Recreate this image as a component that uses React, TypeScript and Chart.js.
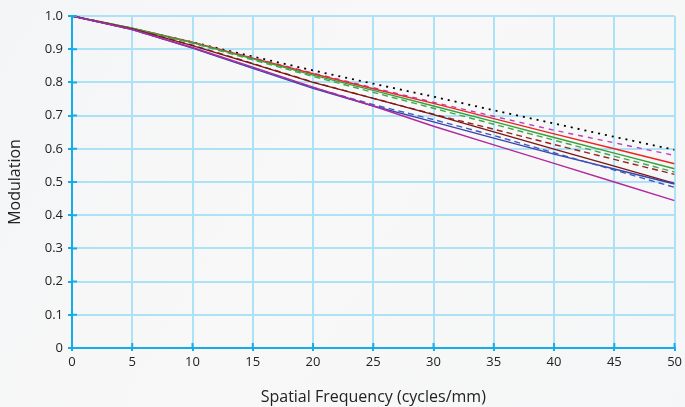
import React, { useEffect, useRef } from "react";
import { Chart, registerables } from "chart.js";

Chart.register(...registerables);

const frequencies = [0, 5, 10, 15, 20, 25, 30, 35, 40, 45, 50];
const yTicks = [0, 0.1, 0.2, 0.3, 0.4, 0.5, 0.6, 0.7, 0.8, 0.9, 1.0];

const diffractionLimit = [1, 0.962, 0.921, 0.878, 0.836, 0.796, 0.757, 0.716, 0.676, 0.636, 0.597];
const magentaDashed = [1, 0.962, 0.92, 0.874, 0.828, 0.784, 0.74, 0.698, 0.656, 0.618, 0.58];
const redSolid = [1, 0.963, 0.921, 0.873, 0.826, 0.781, 0.737, 0.691, 0.645, 0.6, 0.555];
const greenSolid = [1, 0.963, 0.92, 0.871, 0.822, 0.776, 0.729, 0.682, 0.634, 0.587, 0.54];
const greenDashed = [1, 0.962, 0.918, 0.868, 0.818, 0.77, 0.722, 0.674, 0.626, 0.578, 0.53];
const brownDashed = [1, 0.961, 0.912, 0.857, 0.801, 0.752, 0.704, 0.659, 0.613, 0.568, 0.523];
const darkRedSolid = [1, 0.961, 0.911, 0.856, 0.8, 0.752, 0.703, 0.651, 0.599, 0.548, 0.496];
const blueSolid = [1, 0.959, 0.903, 0.842, 0.782, 0.729, 0.681, 0.632, 0.584, 0.539, 0.494];
const blueDashed = [1, 0.959, 0.904, 0.844, 0.784, 0.733, 0.688, 0.64, 0.588, 0.536, 0.484];
const magentaSolid = [1, 0.959, 0.905, 0.846, 0.786, 0.729, 0.668, 0.612, 0.556, 0.5, 0.444];

const GRID = "#ade1f6";
const AXIS = "#13aeea";
const FONT = "'Open Sans', 'Noto Sans', sans-serif";

const innerTicks = {
  id: "innerTicks",
  afterDraw(chart: any) {
    const { ctx, chartArea, scales } = chart;
    ctx.save();
    ctx.strokeStyle = AXIS;
    ctx.lineWidth = 2;
    ctx.beginPath();
    scales.x.ticks.forEach((t: any) => {
      const px = scales.x.getPixelForValue(t.value);
      ctx.moveTo(px, chartArea.bottom);
      ctx.lineTo(px, chartArea.bottom - 5);
    });
    scales.y.ticks.forEach((t: any) => {
      const py = scales.y.getPixelForValue(t.value);
      ctx.moveTo(chartArea.left, py);
      ctx.lineTo(chartArea.left + 5, py);
    });
    ctx.stroke();
    ctx.restore();
  },
};

export default function App() {
  const ref = useRef<HTMLCanvasElement | null>(null);
  useEffect(() => {
    document.body.style.margin = "0";
    document.body.style.background = "#f7f7f8";
    const mk = (data: number[], color: string, dash: number[] = [], width = 1.4) => ({
      data: frequencies.map((f, i) => ({ x: f, y: data[i] })),
      borderColor: color,
      backgroundColor: color,
      borderDash: dash,
      borderWidth: width,
      pointRadius: 0,
      tension: 0,
      fill: false,
    });
    const chart = new Chart(ref.current!, {
      type: "line",
      data: {
        datasets: [
          mk(magentaSolid, "#b4279f"),
          mk(blueDashed, "#3f57c4", [6, 4]),
          mk(blueSolid, "#3b44a8"),
          mk(darkRedSolid, "#7e1616"),
          mk(brownDashed, "#9a2020", [6, 4]),
          mk(greenDashed, "#3fa84a", [6, 4]),
          mk(greenSolid, "#36a13c"),
          mk(redSolid, "#f02424"),
          mk(magentaDashed, "#c23cbc", [5, 5]),
          mk(diffractionLimit, "#000000", [2, 5], 1.8),
        ] as any,
      },
      options: {
        animation: false,
        responsive: false,
        maintainAspectRatio: false,
        layout: { padding: { top: 16, right: 9, bottom: 0, left: 0 } },
        plugins: { legend: { display: false }, tooltip: { enabled: false } },
        scales: {
          x: {
            type: "linear",
            min: 0,
            max: 50,
            afterFit: (s: any) => { s.height = 59; },
            ticks: { stepSize: 5, color: "#222", font: { family: FONT, size: 13 }, padding: 3, maxRotation: 0 },
            grid: { color: GRID, lineWidth: 2, tickLength: 3, tickColor: AXIS, drawTicks: true },
            border: { color: AXIS, width: 2 },
            title: { display: true, text: "Spatial Frequency (cycles/mm)", color: "#222", font: { family: FONT, size: 16 }, padding: { top: 0, bottom: 0 } },
          },
          y: {
            type: "linear",
            min: 0,
            max: 1,
            afterFit: (s: any) => { s.width = 72; },
            afterBuildTicks: (s: any) => { s.ticks = yTicks.map((v) => ({ value: v })); },
            ticks: {
              color: "#222",
              font: { family: FONT, size: 13 },
              padding: 5,
              callback: (v: any) => (Number(v) === 0 ? "0" : Number(v).toFixed(1)),
            },
            grid: { color: GRID, lineWidth: 2, tickLength: 4, tickColor: AXIS },
            border: { color: AXIS, width: 2 },
            title: { display: true, text: "Modulation", color: "#222", font: { family: FONT, size: 16 }, padding: { top: 6, bottom: 0 } },
          },
        },
      },
      plugins: [innerTicks],
    });
    return () => chart.destroy();
  }, []);
  return (
    <div style={{ width: 685, height: 407, background: "linear-gradient(120deg, #f4f5f7 0%, #f8f8f8 45%, #f5f6f7 100%)" }}>
      <canvas ref={ref} width={685} height={407} style={{ display: "block" }} />
    </div>
  );
}
